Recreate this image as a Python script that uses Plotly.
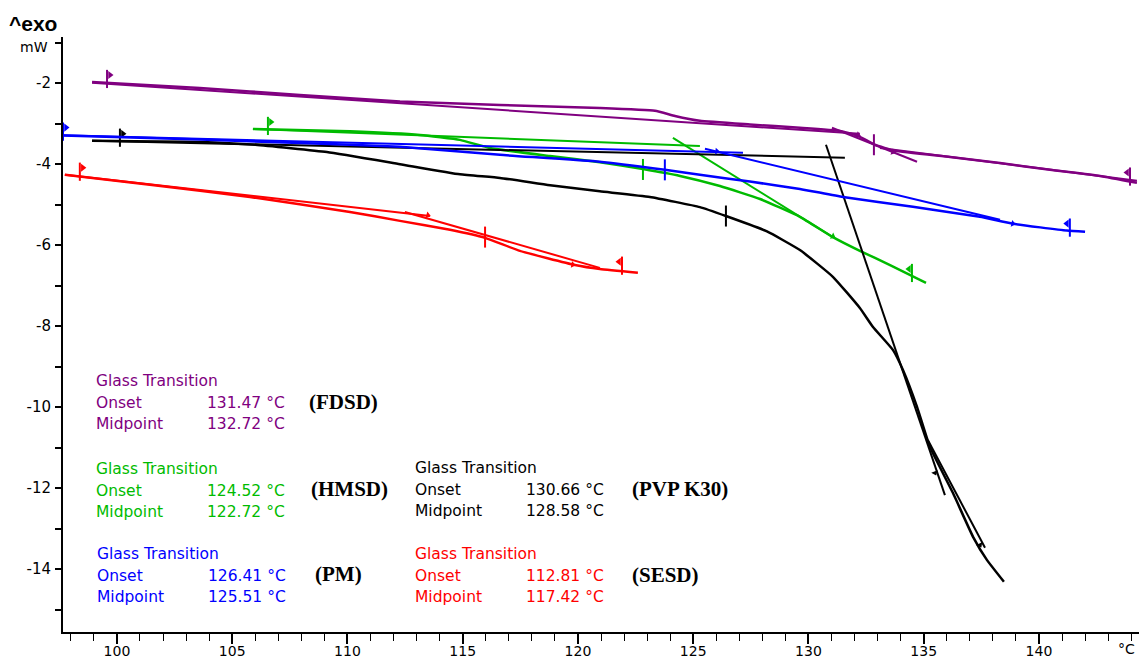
import plotly.graph_objects as go

# ---------------- data : temperature (°C) / heat flow (mW) ----------------
# FDSD (purple)
FDSD_T = [98.92, 103.60, 107.94, 112.28, 116.62, 120.95, 123.34, 124.21, 125.29, 127.46,
          129.63, 131.37, 132.15, 132.88, 133.75, 136.14, 138.31, 140.48, 142.65, 144.25]
FDSD_mW = [-1.97, -2.12, -2.29, -2.45, -2.54, -2.61, -2.68, -2.81, -2.93, -3.02,
           -3.10, -3.18, -3.30, -3.52, -3.67, -3.82, -3.97, -4.14, -4.29, -4.46]
FDSD_TAN_T = [98.92, 132.23, None, 131.02, 134.71, None, 133.10, 144.25]
FDSD_TAN_mW = [-1.99, -3.25, None, -3.10, -3.94, None, -3.60, -4.41]
FDSD_CROSS_T = [132.84]
FDSD_CROSS_mW = [-3.52]
FDSD_FLAG_T = [99.57, 143.95]
FDSD_FLAG_mW = [-1.97, -4.38]
FDSD_FLAG_DIR = [1, -1]
FDSD_ARROW_T = [132.15, 133.67]
FDSD_ARROW_mW = [-3.28, -3.70]
FDSD_ARROW_ANG = [20, 20]

# HMSD (green)
HMSD_T = [105.90, 110.11, 113.15, 114.88, 116.18, 118.79, 120.95, 122.82, 124.43, 126.16,
          127.90, 129.63, 131.06, 132.23, 133.54, 135.10]
HMSD_mW = [-3.13, -3.19, -3.28, -3.40, -3.60, -3.80, -3.95, -4.12, -4.29, -4.54,
           -4.86, -5.30, -5.80, -6.14, -6.49, -6.93]
HMSD_TAN_T = [105.90, 125.29, None, 124.12, 131.06]
HMSD_TAN_mW = [-3.13, -3.55, None, -3.35, -5.80]
HMSD_CROSS_T = [122.82]
HMSD_CROSS_mW = [-4.13]
HMSD_FLAG_T = [106.55, 134.49]
HMSD_FLAG_mW = [-3.13, -6.76]
HMSD_FLAG_DIR = [1, -1]
HMSD_ARROW_T = [131.06]
HMSD_ARROW_mW = [-5.78]
HMSD_ARROW_ANG = [28]

# PM (blue)
PM_T = [97.09, 103.60, 107.94, 112.28, 116.62, 120.95, 123.77, 125.29, 127.46, 129.63,
        131.50, 134.53, 137.44, 138.87, 141.21, 142.00]
PM_mW = [-3.28, -3.39, -3.48, -3.57, -3.77, -3.94, -4.14, -4.26, -4.43, -4.61,
         -4.81, -5.05, -5.30, -5.47, -5.64, -5.67]
PM_TAN_T = [97.09, 127.16, None, 125.51, 138.31]
PM_TAN_mW = [-3.28, -3.72, None, -3.62, -5.37]
PM_CROSS_T = [123.77]
PM_CROSS_mW = [-4.14]
PM_FLAG_T = [97.66, 141.34]
PM_FLAG_mW = [-3.27, -5.64]
PM_FLAG_DIR = [1, -1]
PM_ARROW_T = [126.03, 138.87]
PM_ARROW_mW = [-3.68, -5.47]
PM_ARROW_ANG = [5, 12]

# PVP K30 (black)
PVP_T = [98.92, 103.60, 106.00, 109.11, 112.28, 114.88, 116.62, 118.79, 120.95, 123.12,
         125.29, 126.42, 128.20, 129.63, 131.06, 132.23, 132.80, 133.67, 134.10, 134.71,
         135.27, 136.27, 137.14, 137.74, 138.48]
PVP_mW = [-3.42, -3.45, -3.52, -3.70, -4.00, -4.25, -4.34, -4.52, -4.67, -4.81,
          -5.06, -5.28, -5.66, -6.12, -6.78, -7.55, -8.02, -8.59, -9.08, -9.99,
          -10.98, -12.12, -13.20, -13.77, -14.31]
PVP_TAN_T = [98.92, 131.58, None, 130.76, 135.92, None, 135.18, 137.66]
PVP_TAN_mW = [-3.42, -3.84, None, -3.52, -12.17, None, -10.81, -13.47]
PVP_CROSS_T = [126.42]
PVP_CROSS_mW = [-5.28]
PVP_FLAG_T = [100.13]
PVP_FLAG_mW = [-3.42]
PVP_FLAG_DIR = [1]
PVP_ARROW_T = [135.49, 137.44]
PVP_ARROW_mW = [-11.62, -13.40]
PVP_ARROW_ANG = [68, 62]

# SESD (red)
SESD_T = [97.74, 101.43, 105.77, 110.11, 112.28, 114.45, 115.97, 117.48, 119.87, 120.95, 122.60]
SESD_mW = [-4.26, -4.51, -4.81, -5.18, -5.40, -5.62, -5.82, -6.14, -6.49, -6.59, -6.68]
SESD_TAN_T = [97.74, 113.58, None, 112.49, 120.95]
SESD_TAN_mW = [-4.26, -5.28, None, -5.18, -6.56]
SESD_CROSS_T = [115.97]
SESD_CROSS_mW = [-5.80]
SESD_FLAG_T = [98.39, 121.91]
SESD_FLAG_mW = [-4.26, -6.58]
SESD_FLAG_DIR = [1, -1]
SESD_ARROW_T = [113.49, 119.78]
SESD_ARROW_mW = [-5.26, -6.48]
SESD_ARROW_ANG = [15, 10]

# tick labels
X_TICKS = [100, 105, 110, 115, 120, 125, 130, 135, 140]
Y_TICKS = [-14, -12, -10, -8, -6, -4, -2, -1]
Y_TICK_TEXT = ["-14", "-12", "-10", "-8", "-6", "-4", "-2", ""]
Y_MINOR = [-15, -13, -11, -9, -7, -5, -3]
Y_UNIT = "mW"
X_UNIT = "°C"
EXO = "^exo"

# annotation texts
GT = "Glass Transition"
FDSD_ON, FDSD_MID = "131.47 °C", "132.72 °C"
HMSD_ON, HMSD_MID = "124.52 °C", "122.72 °C"
PM_ON, PM_MID = "126.41 °C", "125.51 °C"
PVP_ON, PVP_MID = "130.66 °C", "128.58 °C"
SESD_ON, SESD_MID = "112.81 °C", "117.42 °C"

# ---------------- style / layout ----------------
PURPLE = "#800080"
GREEN = "#00BB00"
BLUE = "#0000FF"
BLACK = "#000000"
RED = "#FF0000"

W, H = 1139, 661
ML, MR, MT, MB = 63, 0, 37, 29
X_RANGE = [97.66, 144.34]
Y_RANGE = [-15.55, -0.86]
SANS = "DejaVu Sans"
SERIF = "Liberation Serif"
TX_DX, TX_DY = -2, 4   # global text nudge in pixels


def px2paper(px):
    return (px - ML) / (W - ML - MR)


def py2paper(py):
    return 1 - (py - MT) / (H - MT - MB)


PX_PER_X = (W - ML - MR) / (X_RANGE[1] - X_RANGE[0])
PX_PER_Y = (H - MT - MB) / (Y_RANGE[1] - Y_RANGE[0])
FLAG_TICK_DY = 3 / PX_PER_Y
FLAG_TRI_DY = 7 / PX_PER_Y
FLAG_TRI_DX = 3 / PX_PER_X

samples = [
    dict(c=PURPLE, T=FDSD_T, v=FDSD_mW, tT=FDSD_TAN_T, tv=FDSD_TAN_mW, cT=FDSD_CROSS_T, cv=FDSD_CROSS_mW,
         fT=FDSD_FLAG_T, fv=FDSD_FLAG_mW, fd=FDSD_FLAG_DIR, aT=FDSD_ARROW_T, av=FDSD_ARROW_mW, aa=FDSD_ARROW_ANG),
    dict(c=GREEN, T=HMSD_T, v=HMSD_mW, tT=HMSD_TAN_T, tv=HMSD_TAN_mW, cT=HMSD_CROSS_T, cv=HMSD_CROSS_mW,
         fT=HMSD_FLAG_T, fv=HMSD_FLAG_mW, fd=HMSD_FLAG_DIR, aT=HMSD_ARROW_T, av=HMSD_ARROW_mW, aa=HMSD_ARROW_ANG),
    dict(c=BLACK, T=PVP_T, v=PVP_mW, tT=PVP_TAN_T, tv=PVP_TAN_mW, cT=PVP_CROSS_T, cv=PVP_CROSS_mW,
         fT=PVP_FLAG_T, fv=PVP_FLAG_mW, fd=PVP_FLAG_DIR, aT=PVP_ARROW_T, av=PVP_ARROW_mW, aa=PVP_ARROW_ANG),
    dict(c=BLUE, T=PM_T, v=PM_mW, tT=PM_TAN_T, tv=PM_TAN_mW, cT=PM_CROSS_T, cv=PM_CROSS_mW,
         fT=PM_FLAG_T, fv=PM_FLAG_mW, fd=PM_FLAG_DIR, aT=PM_ARROW_T, av=PM_ARROW_mW, aa=PM_ARROW_ANG),
    dict(c=RED, T=SESD_T, v=SESD_mW, tT=SESD_TAN_T, tv=SESD_TAN_mW, cT=SESD_CROSS_T, cv=SESD_CROSS_mW,
         fT=SESD_FLAG_T, fv=SESD_FLAG_mW, fd=SESD_FLAG_DIR, aT=SESD_ARROW_T, av=SESD_ARROW_mW, aa=SESD_ARROW_ANG),
]

fig = go.Figure()
common = dict(hoverinfo="skip", showlegend=False)
for s in samples:
    c = s["c"]
    fig.add_trace(go.Scatter(x=s["T"], y=s["v"], mode="lines",
                             line=dict(color=c, width=2.5, shape="spline", smoothing=0.4), **common))
    fig.add_trace(go.Scatter(x=s["tT"], y=s["tv"], mode="lines", connectgaps=False,
                             line=dict(color=c, width=2), **common))
    fig.add_trace(go.Scatter(x=s["cT"], y=s["cv"], mode="markers", cliponaxis=False,
                             marker=dict(symbol="line-ns", size=15, line=dict(color=c, width=2)), **common))
    fig.add_trace(go.Scatter(x=s["fT"], y=[v + FLAG_TICK_DY for v in s["fv"]], mode="markers", cliponaxis=False,
                             marker=dict(symbol="line-ns", size=13, line=dict(color=c, width=2)), **common))
    fig.add_trace(go.Scatter(x=[t + d * FLAG_TRI_DX for t, d in zip(s["fT"], s["fd"])],
                             y=[v + FLAG_TRI_DY for v in s["fv"]], mode="markers", cliponaxis=False,
                             marker=dict(symbol=["triangle-right" if d > 0 else "triangle-left" for d in s["fd"]],
                                         size=7, color=c, line=dict(width=0)), **common))
    fig.add_trace(go.Scatter(x=s["aT"], y=s["av"], mode="markers", cliponaxis=False,
                             marker=dict(symbol="triangle-right", size=6, color=c, angle=s["aa"],
                                         line=dict(width=0)), **common))


def txt(px, py, text, color, size=15.5, family=SANS, bold=False, xanchor="left", nudge=True):
    if bold:
        text = "<b>" + text + "</b>"
    dx, dy = (TX_DX, TX_DY) if nudge else (0, 0)
    fig.add_annotation(x=px2paper(px + dx), y=py2paper(py + dy), xref="paper", yref="paper", text=text,
                       showarrow=False, xanchor=xanchor, yanchor="middle",
                       font=dict(family=family, size=size, color=color))


blocks = [
    (96, 377, 207, PURPLE, FDSD_ON, FDSD_MID, "(FDSD)", 309, 398),
    (96, 465, 207, GREEN, HMSD_ON, HMSD_MID, "(HMSD)", 311, 485),
    (97, 550, 208, BLUE, PM_ON, PM_MID, "(PM)", 315, 570),
    (415, 464, 526, BLACK, PVP_ON, PVP_MID, "(PVP K30)", 632, 485),
    (415, 550, 526, RED, SESD_ON, SESD_MID, "(SESD)", 632, 571),
]
for lx, gy, vx, col, on, mid, lab, bx, by in blocks:
    txt(lx, gy, GT, col)
    txt(lx, gy + 21.5, "Onset", col)
    txt(vx, gy + 21.5, on, col)
    txt(lx, gy + 43, "Midpoint", col)
    txt(vx, gy + 43, mid, col)
    txt(bx, by, lab, BLACK, size=21, family=SERIF, bold=True)

txt(7, 23, EXO, BLACK, size=21, family="Liberation Sans", bold=True, nudge=False)
txt(50, 47, Y_UNIT, BLACK, size=14, xanchor="right", nudge=False)
txt(1126, 649, X_UNIT, BLACK, size=14, xanchor="center", nudge=False)

fig.update_layout(
    width=W, height=H, autosize=False,
    margin=dict(l=ML, r=MR, t=MT, b=MB, pad=0),
    paper_bgcolor="white", plot_bgcolor="white",
    xaxis=dict(range=X_RANGE, showgrid=False, zeroline=False, showline=True, linecolor="black", linewidth=2,
               automargin=False,
               ticks="outside", ticklen=10, tickwidth=1.5, tickcolor="black", tickvals=X_TICKS,
               ticklabelstandoff=-5,
               tickfont=dict(family=SANS, size=14, color="black"),
               minor=dict(dtick=1, tick0=0, ticks="outside", ticklen=7, tickwidth=1.2, tickcolor="black")),
    yaxis=dict(range=Y_RANGE, showgrid=False, zeroline=False, showline=True, linecolor="black", linewidth=2,
               automargin=False,
               ticks="outside", ticklen=6, tickwidth=1.5, tickcolor="black", tickvals=Y_TICKS, ticktext=Y_TICK_TEXT,
               ticklabelstandoff=1,
               tickfont=dict(family=SANS, size=15, color="black"),
               minor=dict(tickvals=Y_MINOR, ticks="outside", ticklen=6, tickwidth=1.5, tickcolor="black")),
)

fig.write_html("out.html", config={"displayModeBar": False},
               post_script="document.body.style.margin='0';document.body.style.overflow='hidden';")
